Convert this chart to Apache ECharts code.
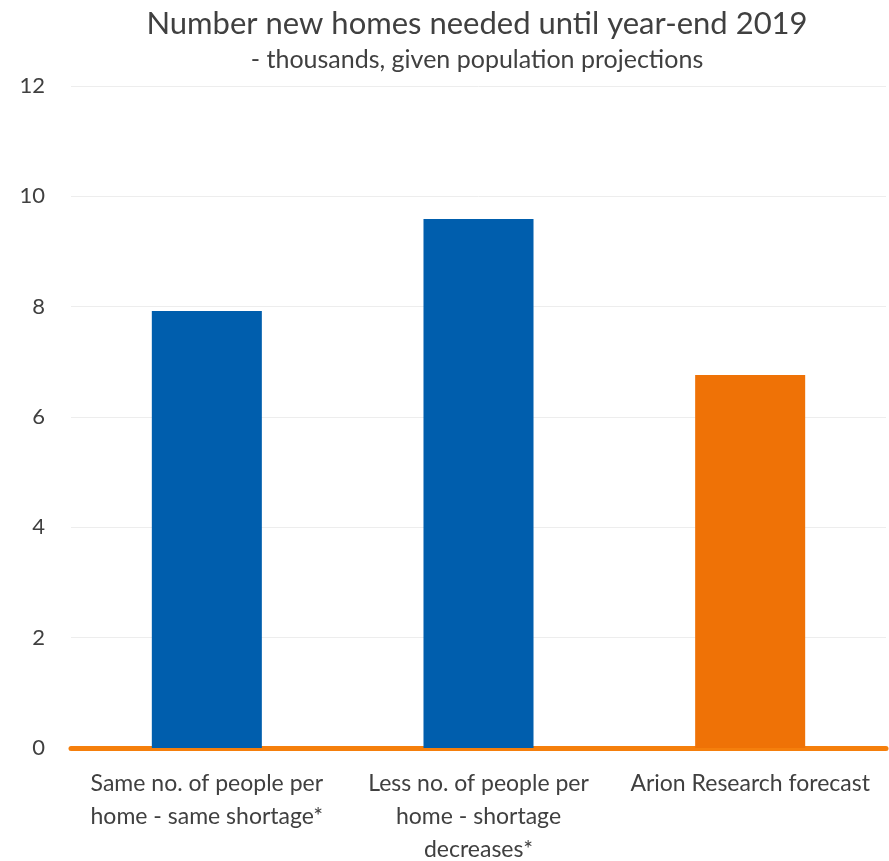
<!DOCTYPE html>
<html>
<head>
<meta charset="utf-8">
<script src="https://cdn.jsdelivr.net/npm/echarts@6/dist/echarts.min.js"></script>
<style>
  html, body { margin: 0; padding: 0; background: #fff; }
  #chart { width: 889px; height: 861px; }
</style>
</head>
<body>
<div id="chart"></div>
<script>
// Homes needed until year-end 2019, thousands
const categories = [
  'Same no. of people per\nhome - same shortage*',
  'Less no. of people per\nhome - shortage\ndecreases*',
  'Arion Research forecast'
];
const values = [7.92, 9.59, 6.76];
const barColors = ['#005EAD', '#005EAD', '#EF7206'];
const yTicks = [0, 2, 4, 6, 8, 10, 12];

const FONT = 'Lato';
const chart = echarts.init(document.getElementById('chart'));

chart.setOption({
  animation: false,
  title: {
    text: 'Number new homes needed until year-end 2019',
    subtext: '- thousands, given population projections',
    left: 472,
    textAlign: 'center',
    top: 3,
    itemGap: 8,
    textStyle: { fontFamily: FONT, fontSize: 31, fontWeight: 'normal', color: '#404040' },
    subtextStyle: { fontFamily: FONT, fontSize: 25, color: '#404040' }
  },
  grid: { left: 71, right: 3, top: 86, bottom: 113, outerBoundsMode: 'none' },
  xAxis: {
    type: 'category',
    data: categories,
    axisLine: { show: true, lineStyle: { color: '#F57F0C', width: 5 } },
    axisTick: { show: false },
    axisLabel: {
      interval: 0,
      margin: 19,
      fontFamily: FONT,
      fontSize: 23,
      lineHeight: 33,
      color: '#404040'
    }
  },
  yAxis: {
    type: 'value',
    min: yTicks[0],
    max: yTicks[yTicks.length - 1],
    interval: 2,
    axisLine: { show: false },
    axisTick: { show: false },
    splitLine: { lineStyle: { color: '#EDEDED', width: 1 } },
    axisLabel: {
      margin: 26,
      fontFamily: FONT,
      fontSize: 22,
      color: '#404040'
    }
  },
  series: [{
    type: 'bar',
    data: values.map((v, i) => ({ value: v, itemStyle: { color: barColors[i] } })),
    barWidth: '40.5%'
  }]
});
</script>
</body>
</html>
